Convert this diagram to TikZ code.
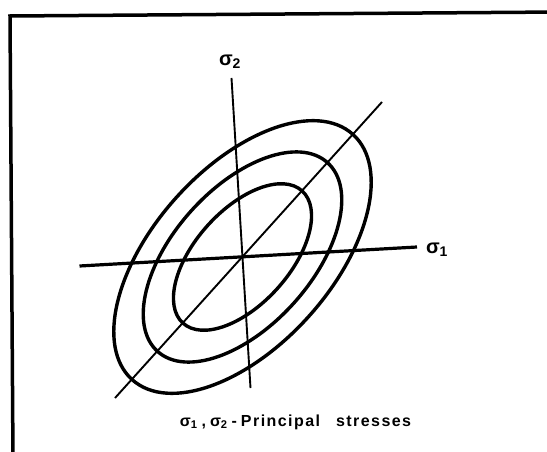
\documentclass[tikz,border=0pt]{standalone}
\usepackage{fontspec}
\setmainfont{Liberation Sans}
\begin{document}
\begin{tikzpicture}[x=1pt,y=1pt,
  contour/.style={line width=3.4pt},
  thinaxis/.style={line width=1.9pt},
  thickaxis/.style={line width=3.2pt},
  frameline/.style={line width=3.5pt},
  axlabel/.style={font=\bfseries\fontsize{20}{20}\selectfont, inner sep=0pt},
  caption/.style={font=\bfseries\fontsize{16}{16}\selectfont\addfontfeatures{LetterSpace=9}, inner sep=0pt}]
\useasboundingbox (0,0) rectangle (547,-452);
% frame
\coordinate (fbl) at (13,-460);
\coordinate (ftl) at (10,-16);
\coordinate (ftr) at (560,-12);
\draw[frameline] (fbl) -- (ftl) -- (ftr);
% centre
\coordinate (c) at (242.5,-257);
% ellipses
\draw[contour] (c) ellipse [x radius=165, y radius=89, rotate=48];
\draw[contour] (c) ellipse [x radius=127, y radius=69, rotate=48];
\draw[contour] (c) ellipse [x radius=89, y radius=47, rotate=48];
% axes
\coordinate (vtop) at (231.5,-78);
\coordinate (vbot) at (250.5,-388);
\coordinate (hl) at (79.5,-266);
\coordinate (hr) at (417,-247);
\coordinate (dl) at (115,-398);
\coordinate (dr) at (382,-102);
\draw[thinaxis] (vtop) -- (vbot);
\draw[thickaxis] (hl) -- (hr);
\draw[thinaxis] (dl) -- (dr);
% labels
\node[axlabel] (s2) at (230,-62) {σ\textsubscript{2}};
\node[axlabel] (s1) at (437,-250) {σ\textsubscript{1}};
\node[caption] (cap) at (295.5,-422) {σ\textsubscript{1}\hspace{4pt},\hspace{4pt}σ\textsubscript{2}\hspace{4pt}-\hspace{4pt}Principal\hspace{16pt}stresses};
\end{tikzpicture}
\end{document}
